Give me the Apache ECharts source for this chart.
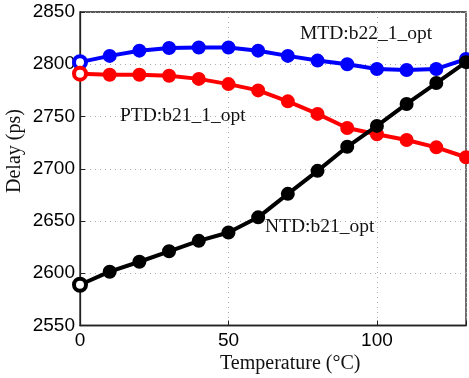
<!DOCTYPE html>
<html><head><meta charset="utf-8">
<script src="https://cdn.jsdelivr.net/npm/echarts@6/dist/echarts.min.js"></script>
<style>html,body{margin:0;padding:0;background:#fff}#c{width:469px;height:378px}</style>
</head><body><div id="c"></div>
<script>
var temperatures = [0,10,20,30,40,50,60,70,80,90,100,110,120,130];
var mtd = [2802,2808,2813,2815.5,2816,2816,2813,2808,2803.5,2800,2795.5,2794.5,2795.5,2805];
var ptd = [2791,2790,2790,2789,2786,2781,2775,2764.5,2752.5,2739,2733,2727.5,2720.5,2711];
var ntd = [2589,2601.5,2611,2621,2631,2639,2653.5,2676,2698,2721,2741,2762,2782,2802];
var yTicks = [2550,2600,2650,2700,2750,2800,2850];
var xTicks = [0,50,100];
var seriesNames = ['MTD:b22_1_opt','PTD:b21_1_opt','NTD:b21_opt'];

function pts(vals){
  return vals.map(function(v,i){
    var d = {value:[temperatures[i], v]};
    if(i===0){ d.itemStyle = {color:'#fff', borderWidth:4}; d.symbolSize = 12; }
    return d;
  });
}
var chart = echarts.init(document.getElementById('c'));
var serif = '"Liberation Serif","Times New Roman",serif';
var sans = '"Liberation Sans",Arial,sans-serif';
function mk(name, vals, color, z){
  return {
    name:name, type:'line', data:pts(vals), z:z,
    symbol:'circle', symbolSize:12, showSymbol:true,
    lineStyle:{color:color,width:4},
    itemStyle:{color:color,borderColor:color,borderWidth:2},
    animation:false, clip:false
  };
}
chart.setOption({
  animation:false,
  grid:{left:80,top:12,width:393.5,height:313.5,show:true,borderColor:'#222',borderWidth:1.3,backgroundColor:'#fff'},
  xAxis:{type:'value',min:0,max:130,interval:50,
    axisLine:{show:true,lineStyle:{color:'#222',width:1.3}},
    axisTick:{inside:true,length:5,lineStyle:{color:'#222'}},
    axisLabel:{fontFamily:sans,fontSize:19,color:'#000',margin:6,
      formatter:function(v){return xTicks.indexOf(v)>=0?String(v):'';}},
    splitLine:{show:true,lineStyle:{color:'#aaa',type:[1,4],width:1}}
  },
  yAxis:{type:'value',min:2550,max:2850,interval:50,
    axisLine:{show:true,lineStyle:{color:'#222',width:1.3}},
    axisTick:{show:true,inside:true,length:5,lineStyle:{color:'#222'}},
    axisLabel:{fontFamily:sans,fontSize:19,color:'#000',margin:5,
      formatter:function(v){return yTicks.indexOf(v)>=0?String(v):'';}},
    splitLine:{show:true,lineStyle:{color:'#aaa',type:[1,4],width:1}}
  },
  series:[
    mk(seriesNames[0], mtd, '#0000ff', 2),
    mk(seriesNames[1], ptd, '#ff0000', 3),
    mk(seriesNames[2], ntd, '#000000', 4)
  ],
  graphic:[
    {type:'text',left:300,top:24,z:10,style:{text:seriesNames[0],font:'19.5px '+serif,fill:'#111'}},
    {type:'text',left:120,top:106,z:10,style:{text:seriesNames[1],font:'19.5px '+serif,fill:'#111'}},
    {type:'text',left:265,top:217,z:10,style:{text:seriesNames[2],font:'19.5px '+serif,fill:'#111'}},
    {type:'text',left:220,top:354,z:10,style:{text:'Temperature (°C)',font:'20px '+serif,fill:'#111'}},
    {type:'text',x:5,y:193,rotation:Math.PI/2,z:10,style:{text:'Delay (ps)',font:'20px '+serif,fill:'#111'}}
  ]
});
</script></body></html>
